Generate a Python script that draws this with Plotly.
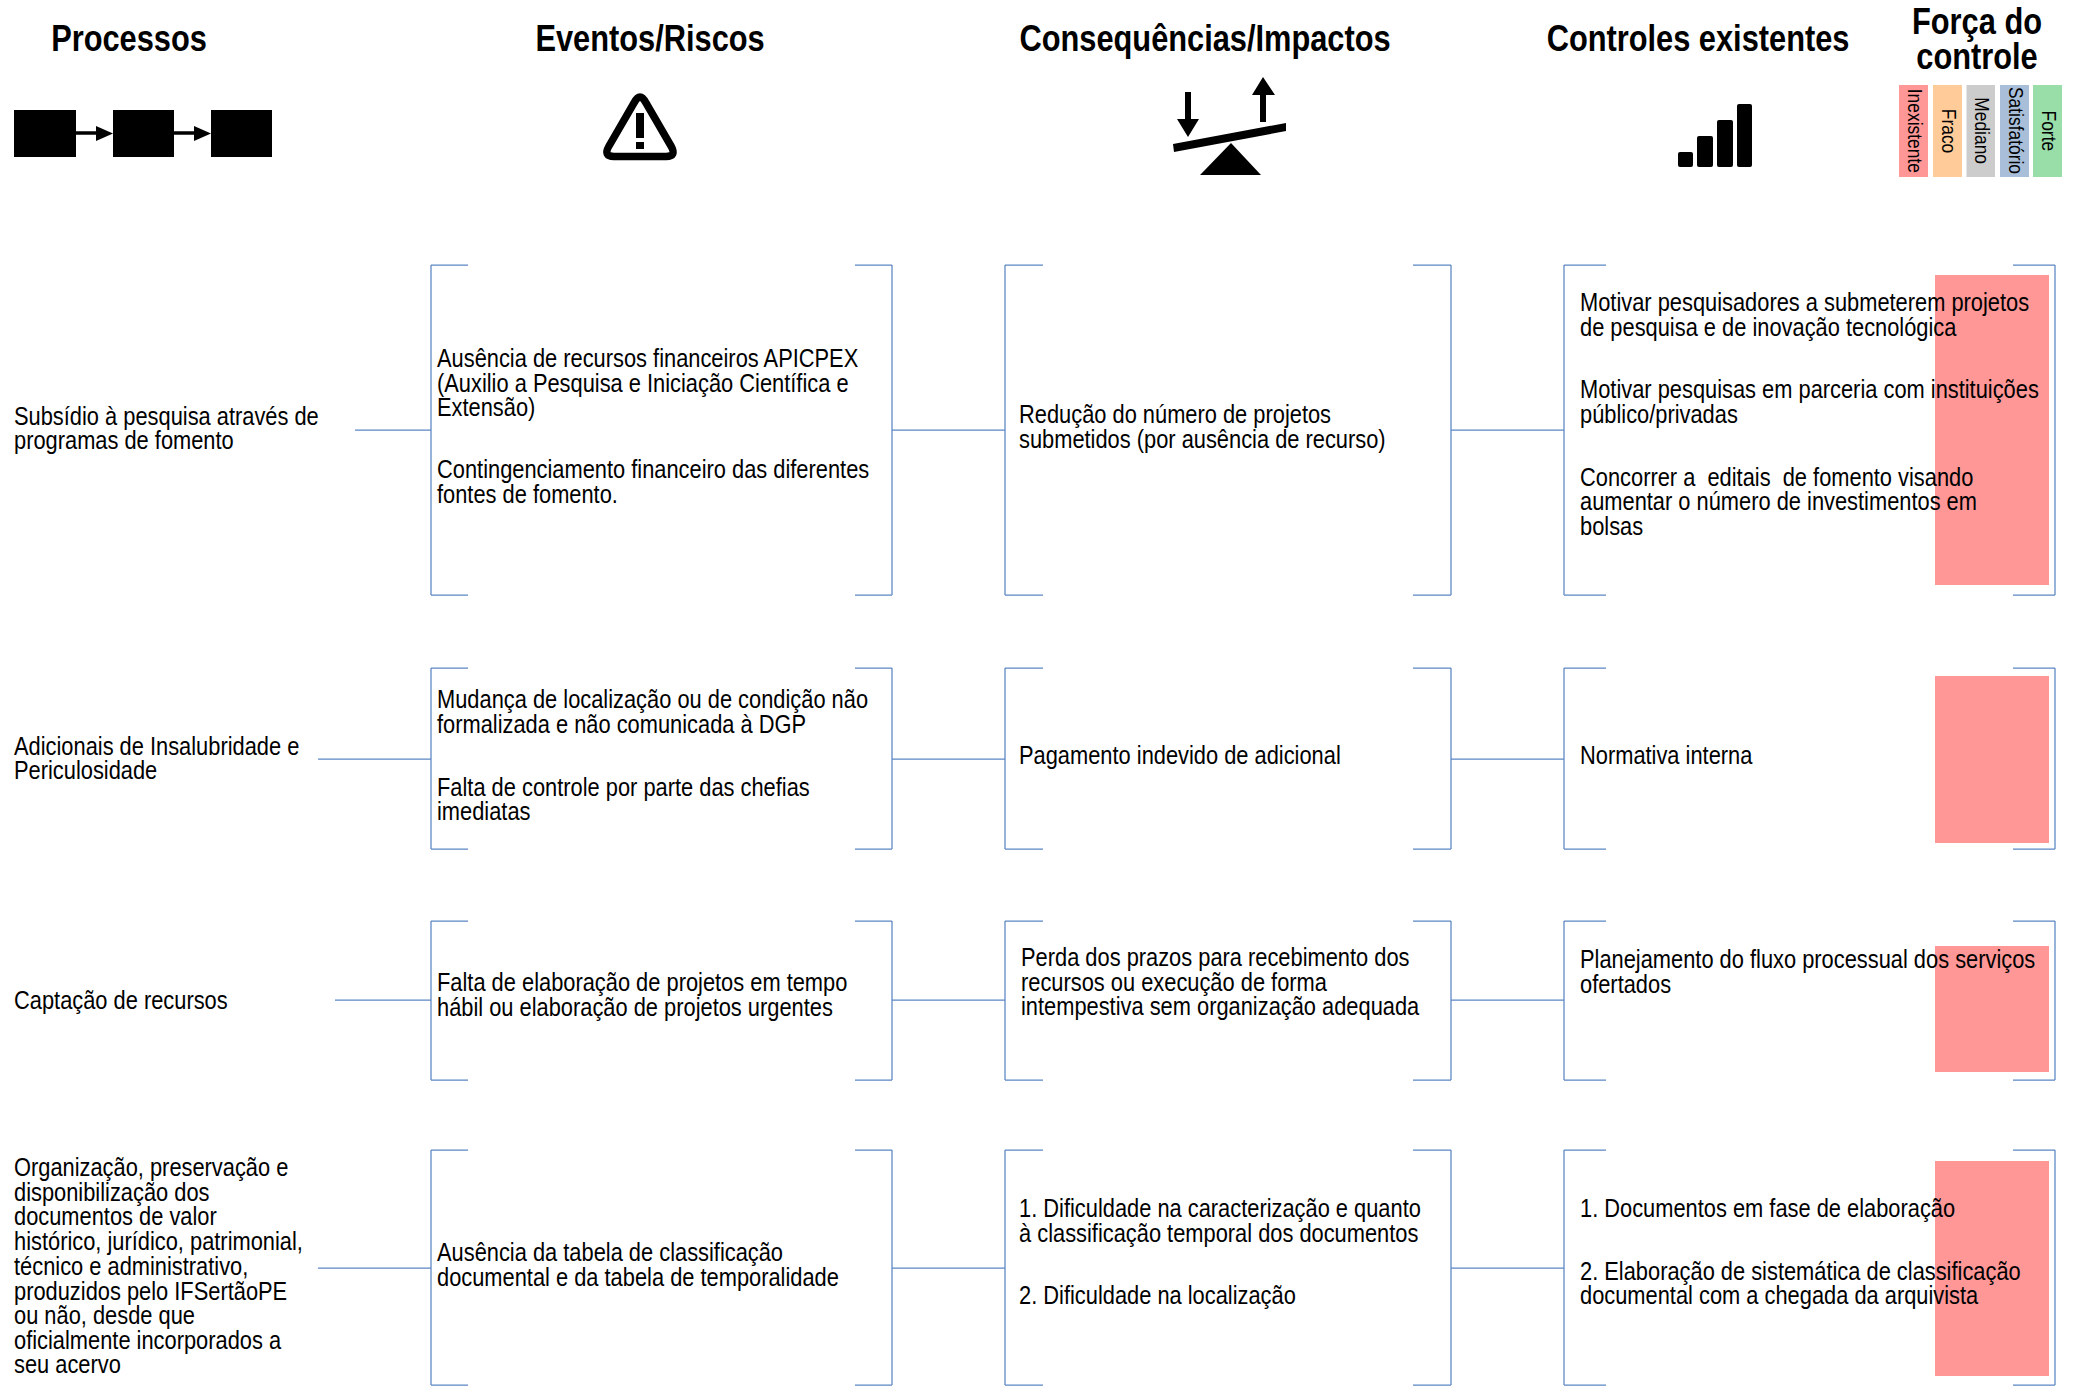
import plotly.graph_objects as go

W, H = 2078, 1391
BODY_FONT = "Liberation Sans, sans-serif"
BODY_SIZE = 26
HEAD_SIZE = 36
LEG_SIZE = 20
BLUE = "#5B86C4"
RED = "#FF9797"

headers = ["Processos", "Eventos/Riscos", "Consequências/Impactos", "Controles existentes", "Força do", "controle"]
header_x = [129, 650, 1205, 1698, 1977, 1977]
header_y = [38.5, 38.5, 38.5, 38.5, 21.5, 56.5]

strength_labels = ["Inexistente", "Fraco", "Mediano", "Satisfatório", "Forte"]
strength_colors = [RED, "#FFCC99", "#CCCCCC", "#A9BFD9", "#99DDA8"]
strength_x0 = [1899, 1933, 1966.5, 2000, 2033]
strength_x1 = [1928, 1962, 1995, 2029, 2062]

processes = [
    "Subsídio à pesquisa através de", "programas de fomento",
    "Adicionais de Insalubridade e", "Periculosidade",
    "Captação de recursos",
    "Organização, preservação e", "disponibilização dos", "documentos de valor",
    "histórico, jurídico, patrimonial,", "técnico e administrativo,", "produzidos pelo IFSertãoPE",
    "ou não, desde que", "oficialmente incorporados a", "seu acervo",
]
process_y = [415.5, 440, 745.5, 769.5, 999.5, 1167, 1191.5, 1216, 1241, 1266, 1290.5, 1315, 1339.5, 1364]

events = [
    "Ausência de recursos financeiros APICPEX", "(Auxilio a Pesquisa e Iniciação Científica e", "Extensão)",
    "Contingenciamento financeiro das diferentes", "fontes de fomento.",
    "Mudança de localização ou de condição não", "formalizada e não comunicada à DGP",
    "Falta de controle por parte das chefias", "imediatas",
    "Falta de elaboração de projetos em tempo", "hábil ou elaboração de projetos urgentes",
    "Ausência da tabela de classificação", "documental e da tabela de temporalidade",
]
event_y = [358, 382.5, 407, 468.5, 493.5, 699, 723.5, 786.5, 811, 982, 1006.5, 1252, 1276.5]

consequences = [
    "Redução do número de projetos", "submetidos (por ausência de recurso)",
    "Pagamento indevido de adicional",
    "Perda dos prazos para recebimento dos", "recursos ou execução de forma", "intempestiva sem organização adequada",
    "1. Dificuldade na caracterização e quanto", "à classificação temporal dos documentos",
    "2. Dificuldade na localização",
]
consequence_y = [414, 438.5, 754.5, 957, 981.5, 1006, 1208, 1232.5, 1295]
consequence_x = [1018, 1018, 1018, 1019.5, 1019.5, 1019.5, 1018, 1018, 1018]

controls = [
    "Motivar pesquisadores a submeterem projetos", "de pesquisa e de inovação tecnológica",
    "Motivar pesquisas em parceria com instituições", "público/privadas",
    "Concorrer a  editais  de fomento visando", "aumentar o número de investimentos em", "bolsas",
    "Normativa interna",
    "Planejamento do fluxo processual dos serviços", "ofertados",
    "1. Documentos em fase de elaboração",
    "2. Elaboração de sistemática de classificação", "documental com a chegada da arquivista",
]
control_y = [301.5, 326.5, 389, 413.5, 476.5, 501, 525.5, 754.5, 959, 983.5, 1208, 1270.5, 1295]

row_top = [265, 668, 921, 1150]
row_bottom = [595, 849, 1080, 1385]
row_mid = [430, 759, 1000, 1268]
process_line_start = [355, 318, 335, 318]

strength_top = [275, 676, 946, 1161]
strength_bottom = [585, 843, 1072, 1376]

shapes = []
annotations = []


def rect(x0, y0, x1, y1, color, layer="below"):
    shapes.append(dict(type="rect", x0=x0, y0=y0, x1=x1, y1=y1,
                       fillcolor=color, line=dict(width=0), layer=layer))


def seg(x0, y0, x1, y1, color=BLUE, width=1.25):
    shapes.append(dict(type="line", x0=x0, y0=y0, x1=x1, y1=y1,
                       line=dict(color=color, width=width), layer="above"))


def poly(path, fill="#000000", stroke=None, width=0):
    shapes.append(dict(type="path", path=path, fillcolor=fill,
                       line=dict(color=stroke or "rgba(0,0,0,0)", width=width), layer="above"))


def bracket(x, y0, y1, tick):
    seg(x, y0, x, y1)
    seg(x, y0, x + tick, y0)
    seg(x, y1, x + tick, y1)


def text(x, y, s, size=BODY_SIZE, anchor="left", bold=False, angle=0):
    annotations.append(dict(x=x, y=y, text=s, showarrow=False,
                            xanchor=anchor, yanchor="middle", textangle=angle, borderpad=0,
                            font=dict(family=BODY_FONT, size=size, color="#000000",
                                      weight=700 if bold else 400)))


# strength rectangles (behind everything)
for t, b in zip(strength_top, strength_bottom):
    rect(1935, t, 2049, b, RED)

# brackets and connectors
for t, b, m, st in zip(row_top, row_bottom, row_mid, process_line_start):
    bracket(431, t, b, 37)
    bracket(892, t, b, -37)
    bracket(1005, t, b, 38)
    bracket(1451, t, b, -38)
    bracket(1564, t, b, 42)
    bracket(2055, t, b, -42)
    seg(st, m, 431, m)
    seg(892, m, 1005, m)
    seg(1451, m, 1564, m)

# process icon
for x0, x1 in [(14, 76), (113, 174), (211, 272)]:
    rect(x0, 110, x1, 157, "#000000")
for x0, x1 in [(76, 113), (174, 211)]:
    seg(x0, 133, x1 - 10, 133, "#000000", 3.5)
    poly(f"M{x1-17},126 L{x1},133.5 L{x1-17},141 Z")

# warning icon
poly("M634,103 Q640,91 646,103 L671,146 Q677,156.5 666,156.5 L614,156.5 Q603,156.5 609,146 Z",
     fill="rgba(255,255,255,1)", stroke="#000000", width=7.5)
rect(636, 113, 644, 138, "#000000", "above")
rect(636, 142, 644, 149, "#000000", "above")

# balance icon
poly("M1173,144 L1286,123 L1286,131 L1174,152 Z")
poly("M1231,143 L1200,175 L1261,175 Z")
poly("M1185,92 L1191,92 L1191,119 L1199,119 L1188,137 L1177,119 L1185,119 Z")
poly("M1260,122 L1266,122 L1266,95 L1275,95 L1263,77 L1252,95 L1260,95 Z")

# signal icon
for x0, x1, top in [(1678, 1693, 152), (1697, 1713, 136), (1717, 1733, 120), (1737, 1752, 104)]:
    poly(f"M{x0+2},{top} L{x1-2},{top} Q{x1},{top} {x1},{top+2} L{x1},165 Q{x1},167 {x1-2},167 "
         f"L{x0+2},167 Q{x0},167 {x0},165 L{x0},{top+2} Q{x0},{top} {x0+2},{top} Z")

# strength legend
for lab, col, x0, x1 in zip(strength_labels, strength_colors, strength_x0, strength_x1):
    rect(x0, 85, x1, 177, col)
    text((x0 + x1) / 2 + 1.5, 130.5, lab, size=LEG_SIZE, anchor="center", angle=90)

for s, x, y in zip(headers, header_x, header_y):
    text(x, y, s, size=HEAD_SIZE, anchor="center", bold=True)
for s, y in zip(processes, process_y):
    text(12.5, y, s)
for s, y in zip(events, event_y):
    text(435.5, y, s)
for s, x, y in zip(consequences, consequence_x, consequence_y):
    text(x, y, s)
for s, y in zip(controls, control_y):
    text(1578.5, y, s)

fig = go.Figure()
fig.update_layout(
    width=W, height=H, margin=dict(l=0, r=0, t=0, b=0),
    paper_bgcolor="white", plot_bgcolor="white", showlegend=False,
    xaxis=dict(range=[0, W], visible=False),
    yaxis=dict(range=[H, 0], visible=False),
    shapes=shapes, annotations=annotations,
)

# The reference's type is Liberation Sans squeezed horizontally: narrow each real text line.
squeeze = """
document.body.style.margin = '0';
document.querySelectorAll('text.annotation-text').forEach(function (t) {
  var fs = parseFloat(t.style.fontSize);
  var k = fs === 26 ? 0.84 : (fs === 36 ? 0.855 : 0.87);
  var w = t.getComputedTextLength();
  t.setAttribute('lengthAdjust', 'spacingAndGlyphs');
  t.setAttribute('textLength', w * k);
  if (fs === 26) {
    t.setAttribute('x', parseFloat(t.getAttribute('x')) - w / 2);
    t.setAttribute('text-anchor', 'start');
    t.style.textAnchor = 'start';
    var g = t.closest('.annotation');
    var bg = g && g.querySelector('rect.bg');
    if (bg) { bg.setAttribute('width', parseFloat(bg.getAttribute('width')) * k); }
  }
});
"""
fig.write_html("out.html", post_script=squeeze, config={"displayModeBar": False})
